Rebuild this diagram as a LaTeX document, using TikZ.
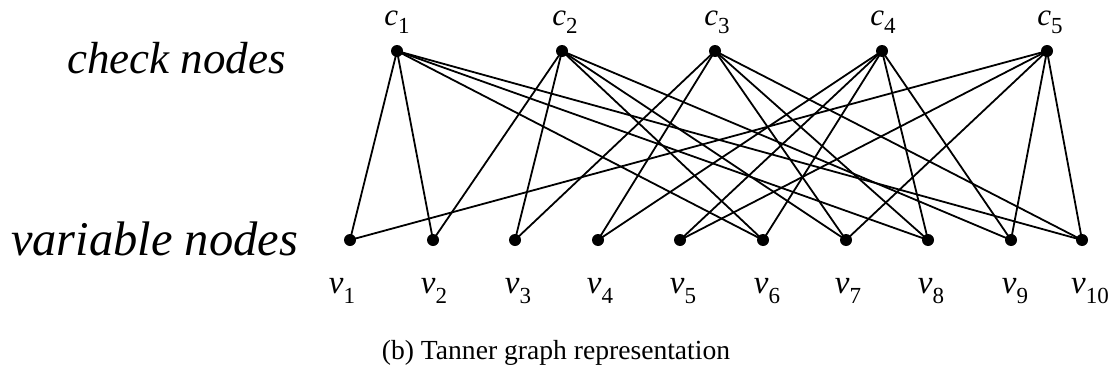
\documentclass[tikz,border=0pt]{standalone}
\usepackage{fontspec}
\setmainfont{Liberation Serif}[ItalicFont={Liberation Serif Italic},BoldFont={Liberation Serif Bold}]
\newcommand\mysub[2]{\raisebox{-#2}{\fontsize{23}{23}\selectfont\upshape #1}}
\begin{document}
\begin{tikzpicture}[x=1pt,y=-1pt,
  dot/.style={circle,fill=black,inner sep=0pt,minimum size=12pt},
  edge/.style={line width=1.8pt},
  clab/.style={anchor=base,inner sep=0pt,font=\fontsize{31}{31}\selectfont\itshape},
  vlab/.style={anchor=base,inner sep=0pt,font=\fontsize{33}{33}\selectfont\itshape},
  side/.style={anchor=base west,inner sep=0pt,font=\fontsize{45}{45}\selectfont\itshape}]
\useasboundingbox (0,0) rectangle (1115,380);
% check nodes
\node[dot] (c1) at (397,51) {};
\node[dot] (c2) at (562,51) {};
\node[dot] (c3) at (715,51) {};
\node[dot] (c4) at (882,51) {};
\node[dot] (c5) at (1047,51) {};
% variable nodes
\node[dot] (v1) at (350,240) {};
\node[dot] (v2) at (433,240) {};
\node[dot] (v3) at (515,240) {};
\node[dot] (v4) at (598,240) {};
\node[dot] (v5) at (680,240) {};
\node[dot] (v6) at (763,240) {};
\node[dot] (v7) at (846,240) {};
\node[dot] (v8) at (928,240) {};
\node[dot] (v9) at (1011,240) {};
\node[dot] (v10) at (1082,240) {};
% labels
\node[clab] (lc1) at (397,25) {c\mysub{1}{8pt}};
\node[clab] (lc2) at (565,25) {c\mysub{2}{8pt}};
\node[clab] (lc3) at (717,25) {c\mysub{3}{8pt}};
\node[clab] (lc4) at (883,25) {c\mysub{4}{8pt}};
\node[clab] (lc5) at (1050,25) {c\mysub{5}{8pt}};
\node[vlab] (lv1) at (342,293) {v\mysub{1}{10pt}};
\node[vlab] (lv2) at (434,293) {v\mysub{2}{10pt}};
\node[vlab] (lv3) at (518,293) {v\mysub{3}{10pt}};
\node[vlab] (lv4) at (600,293) {v\mysub{4}{10pt}};
\node[vlab] (lv5) at (683,293) {v\mysub{5}{10pt}};
\node[vlab] (lv6) at (767,293) {v\mysub{6}{10pt}};
\node[vlab] (lv7) at (848,293) {v\mysub{7}{10pt}};
\node[vlab] (lv8) at (931,293) {v\mysub{8}{10pt}};
\node[vlab] (lv9) at (1015,293) {v\mysub{9}{10pt}};
\node[vlab] (lv10) at (1090,293) {v\mysub{10}{10pt}};
\node[side] (chk) at (67,73) {check nodes};
\node[side,font=\fontsize{48.5}{48.5}\selectfont\itshape] (var) at (11,255) {variable nodes};
\node[anchor=base,inner sep=0pt,font=\fontsize{27.6}{27.6}\selectfont] (cap) at (556,359) {(b) Tanner graph representation};
% edges
\foreach \c/\v in {c1/v1,c1/v2,c1/v6,c1/v8,c1/v10,
                   c2/v2,c2/v3,c2/v6,c2/v7,c2/v9,
                   c3/v3,c3/v4,c3/v7,c3/v8,c3/v10,
                   c4/v4,c4/v5,c4/v6,c4/v8,c4/v9,
                   c5/v1,c5/v5,c5/v7,c5/v9,c5/v10}
  \draw[edge] (\c.center) -- (\v.center);
\end{tikzpicture}
\end{document}
